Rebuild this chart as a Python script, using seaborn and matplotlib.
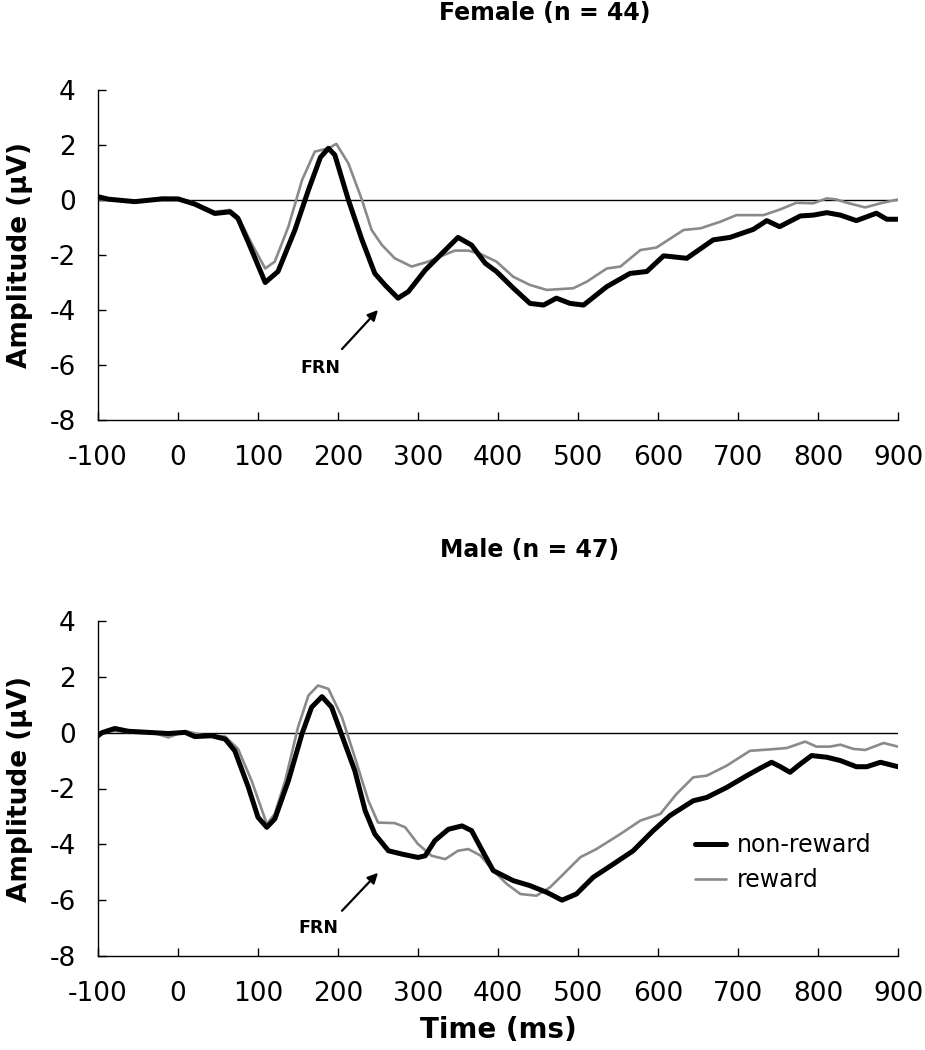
import matplotlib
matplotlib.use("Agg")
import matplotlib.pyplot as plt
import seaborn as sns

# ---------------- data ----------------
# Female, non-reward
f_nr_t = [-100, -87, -54, -20, 0, 21, 46, 65, 75, 92, 109, 125, 146, 163, 178, 188, 196,
          213, 230, 246, 259, 275, 288, 309, 330, 350, 367, 384, 398, 419, 440, 457, 473,
          490, 507, 536, 565, 586, 607, 636, 669, 690, 719, 736, 752, 778, 794, 811, 828,
          848, 873, 886, 900]
f_nr_v = [0.12, 0.03, -0.06, 0.04, 0.04, -0.15, -0.49, -0.43, -0.67, -1.82, -3.0, -2.6,
          -1.1, 0.36, 1.55, 1.88, 1.64, 0.0, -1.45, -2.67, -3.1, -3.57, -3.33, -2.55,
          -1.94, -1.36, -1.64, -2.3, -2.6, -3.2, -3.76, -3.82, -3.57, -3.76, -3.82,
          -3.15, -2.67, -2.6, -2.03, -2.12, -1.45, -1.36, -1.07, -0.75, -0.97, -0.58,
          -0.55, -0.46, -0.55, -0.75, -0.48, -0.7, -0.7]
# Female, reward
f_r_t = [-100, -54, -20, 0, 21, 46, 65, 75, 92, 109, 121, 138, 155, 171, 188, 198, 213,
         230, 242, 255, 271, 292, 313, 330, 346, 363, 378, 398, 419, 440, 461, 494, 511,
         536, 553, 578, 598, 632, 653, 678, 698, 732, 753, 773, 794, 811, 823, 836, 859,
         878, 900]
f_r_v = [0.03, -0.05, 0.08, 0.06, -0.1, -0.43, -0.36, -0.6, -1.58, -2.49, -2.24, -0.97,
         0.72, 1.76, 1.88, 2.04, 1.33, 0.0, -1.09, -1.64, -2.12, -2.42, -2.24, -2.03,
         -1.84, -1.84, -1.96, -2.24, -2.79, -3.09, -3.27, -3.21, -2.97, -2.49, -2.42,
         -1.82, -1.73, -1.09, -1.03, -0.79, -0.55, -0.55, -0.34, -0.1, -0.12, 0.06,
         0.02, -0.1, -0.27, -0.12, 0.02]
# Male, non-reward
m_nr_t = [-100, -95, -79, -62, -37, -12, 9, 21, 42, 59, 71, 88, 100, 111, 121, 138, 155,
          167, 180, 192, 205, 221, 234, 246, 263, 280, 300, 309, 321, 338, 355, 367,
          378, 394, 419, 440, 461, 480, 498, 519, 544, 569, 594, 615, 644, 661, 686,
          711, 728, 742, 753, 765, 778, 792, 811, 828, 848, 861, 878, 900]
m_nr_v = [-0.11, 0.0, 0.15, 0.05, 0.01, -0.03, 0.01, -0.14, -0.11, -0.23, -0.65, -1.96,
          -3.03, -3.39, -3.09, -1.72, -0.04, 0.91, 1.29, 0.91, -0.11, -1.36, -2.8,
          -3.63, -4.23, -4.35, -4.47, -4.41, -3.87, -3.46, -3.34, -3.51, -4.1, -4.94,
          -5.3, -5.48, -5.72, -6.0, -5.78, -5.18, -4.71, -4.23, -3.51, -2.97, -2.44,
          -2.32, -1.96, -1.54, -1.27, -1.06, -1.22, -1.42, -1.12, -0.82, -0.88, -1.0,
          -1.22, -1.22, -1.06, -1.22]
# Male, reward
m_r_t = [-100, -79, -54, -33, -12, 9, 30, 59, 75, 92, 111, 121, 134, 150, 163, 175, 188,
         205, 221, 238, 250, 271, 284, 300, 317, 334, 350, 363, 378, 394, 411, 428, 448,
         465, 482, 503, 523, 553, 578, 603, 623, 644, 661, 686, 715, 740, 761, 784,
         798, 815, 828, 844, 859, 882, 900]
m_r_v = [0.0, 0.06, 0.0, 0.02, -0.17, 0.06, -0.08, -0.14, -0.58, -1.72, -3.27, -2.91,
         -1.72, 0.19, 1.33, 1.69, 1.57, 0.55, -0.88, -2.44, -3.22, -3.24, -3.39, -3.99,
         -4.41, -4.53, -4.23, -4.17, -4.4, -4.94, -5.42, -5.78, -5.84, -5.54, -5.06,
         -4.46, -4.17, -3.63, -3.15, -2.91, -2.2, -1.6, -1.54, -1.18, -0.65, -0.6,
         -0.55, -0.32, -0.5, -0.5, -0.43, -0.58, -0.62, -0.37, -0.5]

titles = ["Female (n = 44)", "Male (n = 47)"]
series_labels = ["non-reward", "reward"]
x_ticks = list(range(-100, 1000, 100))
y_ticks = list(range(-8, 5, 2))
frn_arrow = [(205, -5.42, 250, -4.0), (205, -6.38, 250, -5.02)]
frn_text = [(178, -6.1), (176, -7.0)]

# ---------------- styling ----------------
sns.set_theme(style="white")
plt.rcParams['font.family'] = ['DejaVu Sans']
plt.rcParams['text.color'] = 'black'
plt.rcParams['axes.labelcolor'] = 'black'
plt.rcParams['xtick.color'] = 'black'
plt.rcParams['ytick.color'] = 'black'

fig = plt.figure(figsize=(9.25, 10.5), dpi=100)
W, H = 925, 1050
ax_top = fig.add_axes([98 / W, 1 - 420 / H, 800 / W, 330 / H])
ax_bot = fig.add_axes([98 / W, 1 - 956 / H, 800 / W, 335 / H])

panels = [
    (ax_top, f_nr_t, f_nr_v, f_r_t, f_r_v),
    (ax_bot, m_nr_t, m_nr_v, m_r_t, m_r_v),
]

for i, (ax, t_nr, v_nr, t_r, v_r) in enumerate(panels):
    ax.axhline(0, color="black", lw=1.0, zorder=1)
    sns.lineplot(x=t_r, y=v_r, ax=ax, color="#8a8a8a", lw=1.9,
                 label=series_labels[1] if i == 1 else None, zorder=2)
    sns.lineplot(x=t_nr, y=v_nr, ax=ax, color="black", lw=3.6,
                 label=series_labels[0] if i == 1 else None, zorder=3)
    ax.set_xlim(-100, 900)
    ax.set_ylim(-8, 4)
    ax.set_xticks(x_ticks)
    ax.set_yticks(y_ticks)
    ax.set_xticklabels([str(v) for v in x_ticks])
    ax.set_yticklabels([str(v) for v in y_ticks])
    for side in ["top", "right"]:
        ax.spines[side].set_visible(False)
    for side in ["left", "bottom"]:
        ax.spines[side].set_color("black")
        ax.spines[side].set_linewidth(1.0)
    ax.tick_params(axis="both", direction="in", length=6, width=1.0,
                   color="black", labelsize=19, labelcolor="black")
    ax.tick_params(axis="x", pad=18)
    ax.tick_params(axis="y", pad=16)
    ax.tick_params(axis="both", which="both", left=True, bottom=True)
    ax.set_ylabel("Amplitude (\u00b5V)", fontsize=19, fontweight="bold")
    ax.yaxis.set_label_coords(-0.081, 0.5)
    ax.set_xlabel("")
    ax.grid(False)

    x0, y0, x1, y1 = frn_arrow[i]
    ax.annotate("", xy=(x1, y1), xytext=(x0, y0),
                arrowprops=dict(arrowstyle="-|>,head_length=0.5,head_width=0.25",
                                color="black", lw=1.6, shrinkA=0, shrinkB=0))
    tx, ty = frn_text[i]
    ax.text(tx, ty, "FRN", fontsize=12.5, fontweight="bold", ha="center", va="center")

ax_bot.set_xlabel("Time (ms)", fontsize=20, fontweight="bold")
ax_bot.xaxis.set_label_coords(0.5, -0.18)

fig.text(545 / W, 1 - 13 / H, titles[0], fontsize=17, fontweight="bold",
         ha="center", va="center")
fig.text(530 / W, 1 - 550 / H, titles[1], fontsize=17, fontweight="bold",
         ha="center", va="center")

handles, labels = ax_bot.get_legend_handles_labels()
order = [labels.index(series_labels[0]), labels.index(series_labels[1])]
leg = ax_bot.legend([handles[k] for k in order], [labels[k] for k in order],
                    loc="upper left", bbox_to_anchor=(0.735, 0.394), frameon=False,
                    fontsize=17, handlelength=1.3, handletextpad=0.45,
                    labelspacing=0.45, borderaxespad=0)

fig.savefig("out.png", dpi=100, facecolor="white")
